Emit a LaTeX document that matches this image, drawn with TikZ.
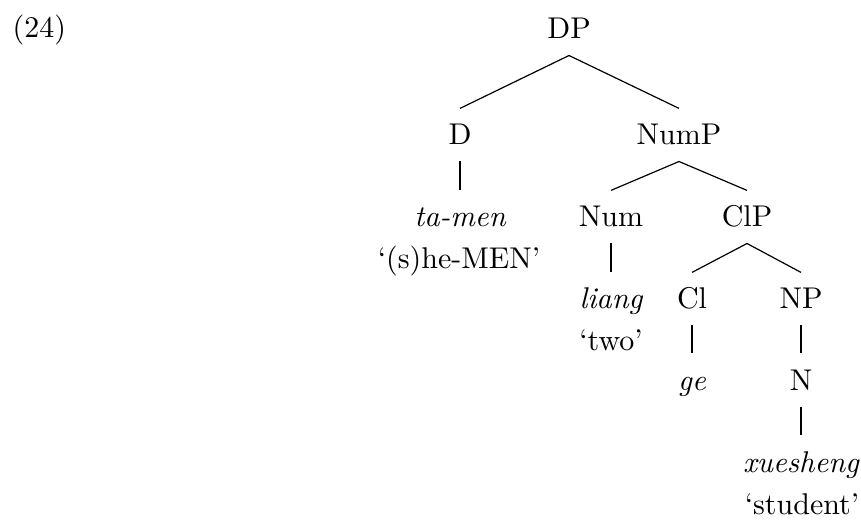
\documentclass[tikz,border=0pt]{standalone}
\begin{document}
\begin{tikzpicture}[x=0.33333pt,y=-0.33333pt,
  lab/.style={anchor=base,inner xsep=0pt,inner ysep=3.3pt,text height=8.7pt,text depth=2pt},
  gloss/.style={anchor=base,inner sep=0pt},
  edge/.style={line width=0.4pt}]
\useasboundingbox (0,0) rectangle (861,520);
\node[gloss,anchor=base west] (ex) at (12,38) {(24)};
\node[lab] (DP) at (569,39) {DP};
\node[lab] (D) at (460,145) {D};
\node[lab] (NumP) at (679,145) {NumP};
\node[lab] (tamen) at (460,227) {\itshape ta-men};
\node[gloss] (g1) at (459,269) {`(s)he-MEN'};
\node[lab] (Num) at (611,227) {Num};
\node[lab] (ClP) at (747,227) {ClP};
\node[lab] (liang) at (611,309) {\itshape liang};
\node[gloss] (g2) at (611,350) {`two'};
\node[lab] (Cl) at (692,309) {Cl};
\node[lab] (NP) at (801,309) {NP};
\node[lab] (ge) at (692,390) {\itshape ge};
\node[lab] (N) at (801,390) {N};
\node[lab] (xs) at (801,472) {\itshape xuesheng};
\node[gloss] (g3) at (802,514) {`student'};
\draw[edge] (DP.south) -- (D.north);
\draw[edge] (DP.south) -- (NumP.north);
\draw[edge] (D.south) -- (tamen.north);
\draw[edge] (NumP.south) -- (Num.north);
\draw[edge] (NumP.south) -- (ClP.north);
\draw[edge] (Num.south) -- (liang.north);
\draw[edge] (ClP.south) -- (Cl.north);
\draw[edge] (ClP.south) -- (NP.north);
\draw[edge] (Cl.south) -- (ge.north);
\draw[edge] (NP.south) -- (N.north);
\draw[edge] (N.south) -- (xs.north);
\end{tikzpicture}
\end{document}
